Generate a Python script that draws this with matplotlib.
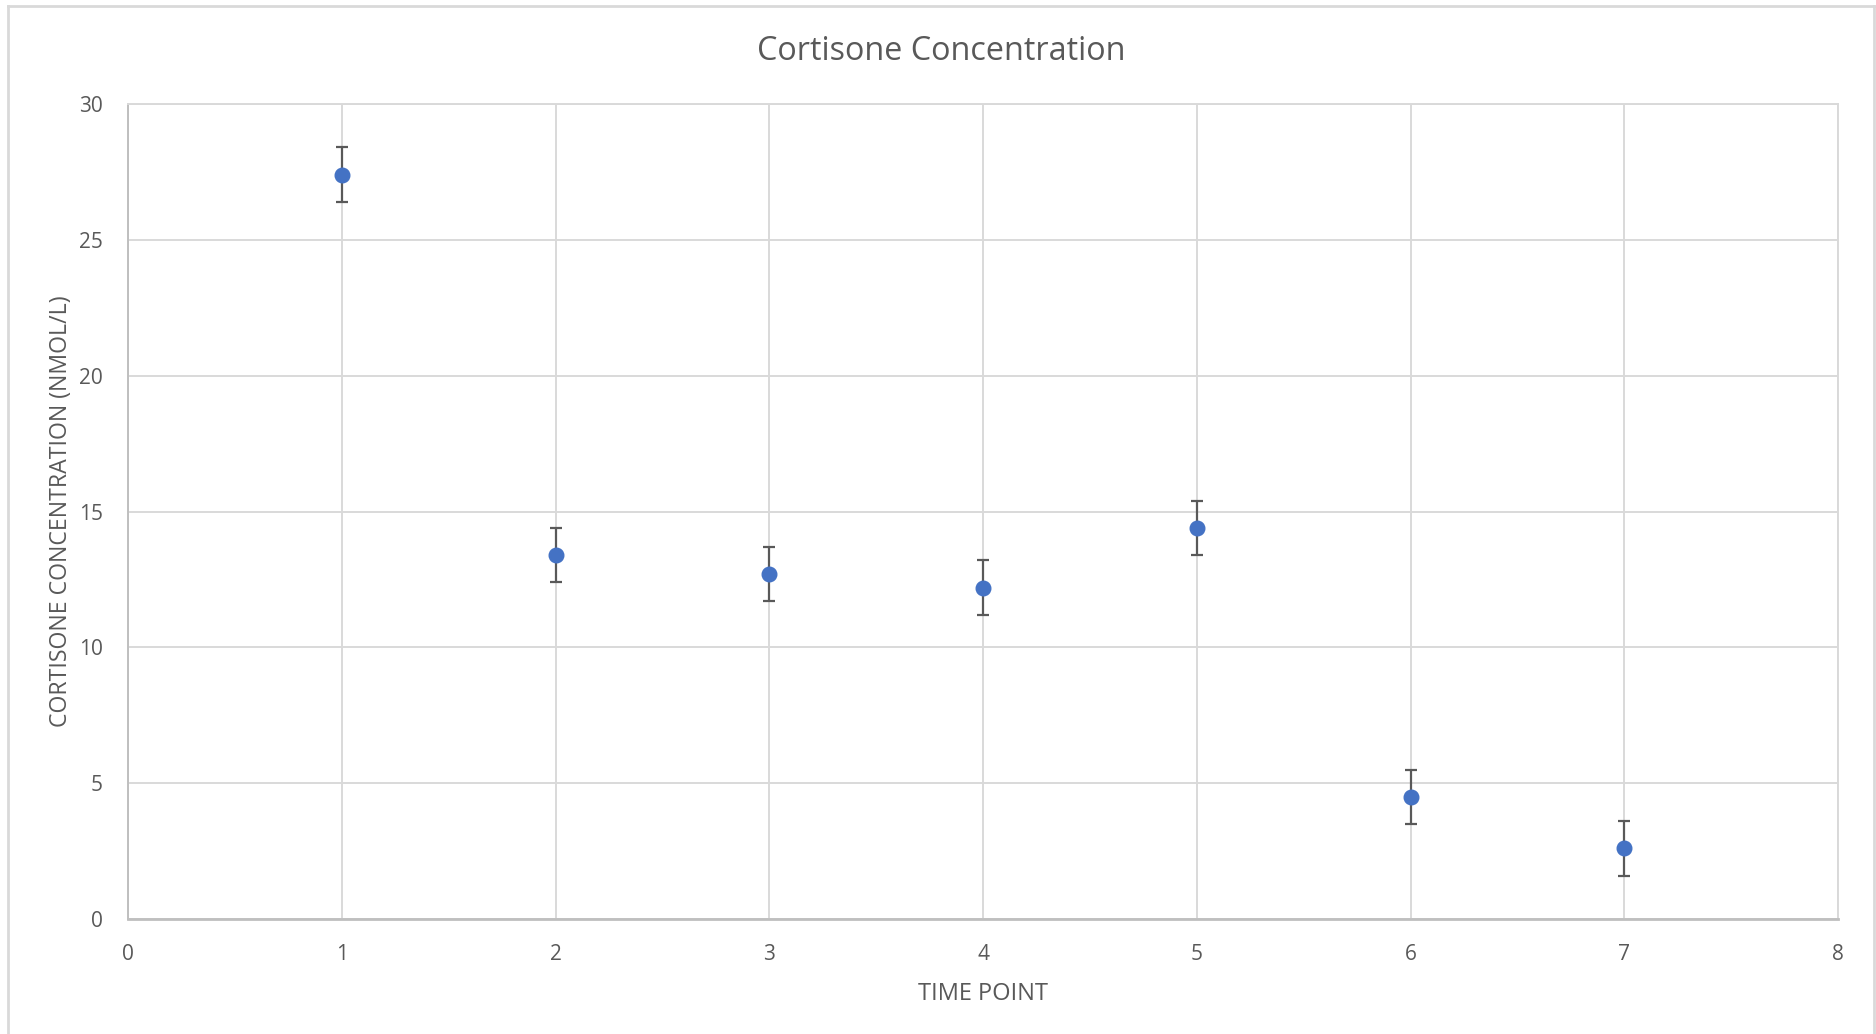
import numpy as np
import matplotlib.pyplot as plt
from matplotlib.lines import Line2D

# Data
time_points = [1, 2, 3, 4, 5, 6, 7]
cortisone = [27.4, 13.4, 12.7, 12.2, 14.4, 4.5, 2.6]
errors = [1, 1, 1, 1, 1, 1, 1]
x_ticks = [0, 1, 2, 3, 4, 5, 6, 7, 8]
y_ticks = [0, 5, 10, 15, 20, 25, 30]

text_color = '#595959'
grid_color = '#D9D9D9'

plt.rcParams['font.family'] = ['Open Sans', 'DejaVu Sans']

fig = plt.figure(figsize=(18.76, 10.34), dpi=100)
ax = fig.add_axes([128 / 1876, 1 - 919 / 1034, (1838 - 128) / 1876, (919 - 104) / 1034])

# Error bars and markers
ax.errorbar(time_points, cortisone, yerr=errors, fmt='none', ecolor=text_color,
            elinewidth=1.6, capsize=4.5, capthick=1.6, zorder=3)
ax.plot(time_points, cortisone, 'o', color='#4472C4', markersize=10.5, zorder=4)

ax.set_xlim(0, 8)
ax.set_ylim(0, 30)
ax.set_xticks(x_ticks)
ax.set_yticks(y_ticks)
ax.grid(True, color=grid_color, linewidth=1.4)
ax.set_axisbelow(True)
ax.tick_params(length=0, labelsize=15, labelcolor=text_color)
ax.tick_params(axis='x', pad=18)
ax.tick_params(axis='y', pad=18)
for side in ['top', 'right']:
    ax.spines[side].set_color(grid_color)
    ax.spines[side].set_linewidth(1.4)
ax.spines['left'].set_color('#BFBFBF')
ax.spines['left'].set_linewidth(1.4)
ax.spines['bottom'].set_color('#BFBFBF')
ax.spines['bottom'].set_linewidth(2)

ax.set_xlabel('TIME POINT', fontsize=17, color=text_color, labelpad=12)
ax.set_ylabel('CORTISONE CONCENTRATION (NMOL/L)', fontsize=16.7, color=text_color, labelpad=4)
fig.text(941 / 1876, 1 - 51 / 1034, 'Cortisone Concentration', fontsize=23.3,
         color=text_color, ha='center', va='center')

# Chart border (Excel chart area frame)
W, H = 1876, 1034
for xs, ys in [([8, 8], [6, H]), ([8, 1874], [6, 6]), ([1874, 1874], [6, H])]:
    fig.add_artist(Line2D([x / W for x in xs], [1 - y / H for y in ys],
                          color=grid_color, linewidth=2, transform=fig.transFigure))

fig.savefig('out.png', dpi=100)
